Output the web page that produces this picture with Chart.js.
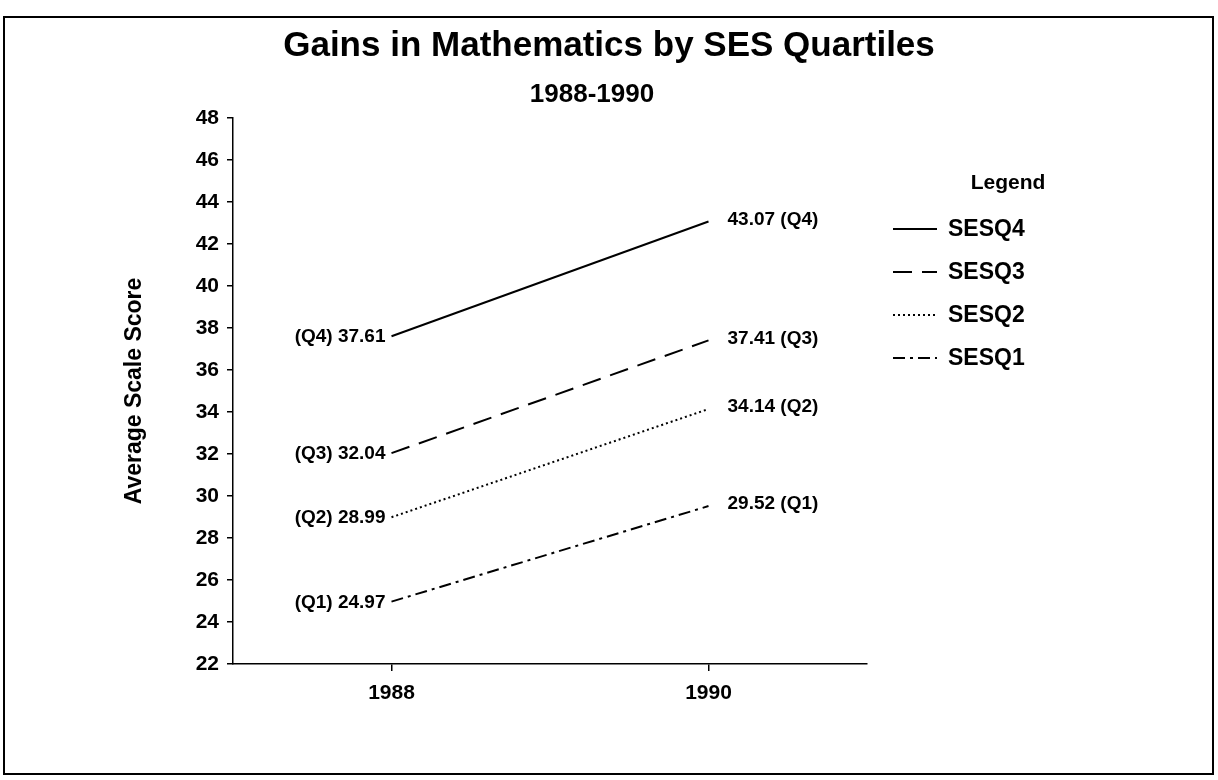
<!DOCTYPE html>
<html>
<head>
<meta charset="utf-8">
<title>Gains in Mathematics by SES Quartiles</title>
<script src="https://cdn.jsdelivr.net/npm/chart.js@4.4.0/dist/chart.umd.min.js"></script>
<style>
  html, body { margin: 0; padding: 0; background: #fff; }
  #wrap { width: 1218px; height: 780px; }
</style>
</head>
<body>
<div id="wrap"><canvas id="chart" width="1218" height="780"></canvas></div>
<script>
// values
var years = [1988, 1990];
var seriesNames = ['SESQ4', 'SESQ3', 'SESQ2', 'SESQ1'];
var quartileTags = ['Q4', 'Q3', 'Q2', 'Q1'];
var sesq4 = [37.61, 43.07];
var sesq3 = [32.04, 37.41];
var sesq2 = [28.99, 34.14];
var sesq1 = [24.97, 29.52];
var xTicks = [1988, 1990];
var yTicks = [22, 24, 26, 28, 30, 32, 34, 36, 38, 40, 42, 44, 46, 48];

var titleText = 'Gains in Mathematics by SES Quartiles';
var subtitleText = '1988-1990';
var yTitle = 'Average Scale Score';
var legendTitle = 'Legend';

var FONT = "'Liberation Sans', Arial, Helvetica, sans-serif";
var dashes = [[], [19, 10], [2, 3], [12, 5, 3, 5]];

function points(vals) {
    return years.map(function (yr, i) { return { x: yr, y: vals[i] }; });
}

var allSeries = [sesq4, sesq3, sesq2, sesq1];
var datasets = allSeries.map(function (vals, i) {
    return {
        label: seriesNames[i],
        data: points(vals),
        borderColor: '#000',
        backgroundColor: '#000',
        borderWidth: 2,
        borderDash: dashes[i],
        pointRadius: 0,
        fill: false,
        tension: 0
    };
});

// frame, titles, end labels and the legend block
var decor = {
    id: 'decor',
    beforeDraw: function (chart) {
        var ctx = chart.ctx;
        ctx.save();
        ctx.fillStyle = '#fff';
        ctx.fillRect(0, 0, chart.width, chart.height);
        ctx.strokeStyle = '#000';
        ctx.lineWidth = 2;
        ctx.strokeRect(4, 17, 1209, 757);
        ctx.restore();
    },
    afterDatasetsDraw: function (chart) {
        var ctx = chart.ctx;
        ctx.save();
        ctx.fillStyle = '#000';
        ctx.font = 'bold 19px ' + FONT;
        ctx.textBaseline = 'middle';
        chart.data.datasets.forEach(function (ds, i) {
            var meta = chart.getDatasetMeta(i);
            var p0 = meta.data[0], p1 = meta.data[1];
            var vals = allSeries[i];
            ctx.textAlign = 'right';
            ctx.fillText('(' + quartileTags[i] + ') ' + vals[0].toFixed(2), p0.x - 6, p0.y + 1);
            ctx.textAlign = 'left';
            ctx.fillText(vals[1].toFixed(2) + ' (' + quartileTags[i] + ')', p1.x + 19, p1.y - 2);
        });
        ctx.restore();
    },
    afterDraw: function (chart) {
        var ctx = chart.ctx;
        ctx.save();
        ctx.fillStyle = '#000';
        ctx.textAlign = 'center';
        ctx.textBaseline = 'alphabetic';
        ctx.font = 'bold 35px ' + FONT;
        ctx.fillText(titleText, 609, 56);
        ctx.font = 'bold 26px ' + FONT;
        ctx.fillText(subtitleText, 592, 102);

        ctx.textBaseline = 'middle';
        ctx.font = 'bold 21px ' + FONT;
        ctx.fillText(legendTitle, 1008, 183);

        ctx.textAlign = 'left';
        ctx.font = 'bold 23px ' + FONT;
        chart.data.datasets.forEach(function (ds, i) {
            var y = 229 + i * 43;
            ctx.strokeStyle = '#000';
            ctx.lineWidth = 2;
            ctx.setLineDash(ds.borderDash);
            ctx.beginPath();
            ctx.moveTo(893, y);
            ctx.lineTo(937, y);
            ctx.stroke();
            ctx.setLineDash([]);
            ctx.fillText(ds.label, 948, y + 1);
        });
        ctx.restore();
    }
};

var tickFont = { family: FONT, size: 21, weight: 'bold' };

new Chart(document.getElementById('chart'), {
    type: 'line',
    data: { datasets: datasets },
    plugins: [decor],
    options: {
        responsive: false,
        animation: false,
        layout: { padding: { left: 0, top: 118, right: 351, bottom: 76 } },
        plugins: {
            legend: { display: false },
            title: { display: false },
            tooltip: { enabled: false }
        },
        scales: {
            x: {
                type: 'linear',
                min: 1987,
                max: 1991,
                afterBuildTicks: function (scale) {
                    scale.ticks = xTicks.map(function (v) { return { value: v }; });
                },
                afterFit: function (scale) { scale.height = 40; },
                ticks: {
                    color: '#000',
                    font: tickFont,
                    padding: 10,
                    maxRotation: 0,
                    autoSkip: false,
                    callback: function (v) { return String(v); }
                },
                grid: { drawOnChartArea: false, drawTicks: true, tickLength: 7, color: '#000', lineWidth: 1.5 },
                border: { display: true, color: '#000', width: 1.5 }
            },
            y: {
                min: 22,
                max: 48,
                afterBuildTicks: function (scale) {
                    scale.ticks = yTicks.map(function (v) { return { value: v }; });
                },
                afterFit: function (scale) { scale.width = 233; },
                ticks: {
                    color: '#000',
                    font: tickFont,
                    padding: 8,
                    callback: function (v) { return String(v); }
                },
                title: {
                    display: true,
                    text: yTitle,
                    color: '#000',
                    font: { family: FONT, size: 23, weight: 'bold' },
                    padding: { top: 121, bottom: 0 }
                },
                grid: { drawOnChartArea: false, drawTicks: true, tickLength: 6, color: '#000', lineWidth: 1.5 },
                border: { display: true, color: '#000', width: 1.5 }
            }
        }
    }
});
</script>
</body>
</html>
